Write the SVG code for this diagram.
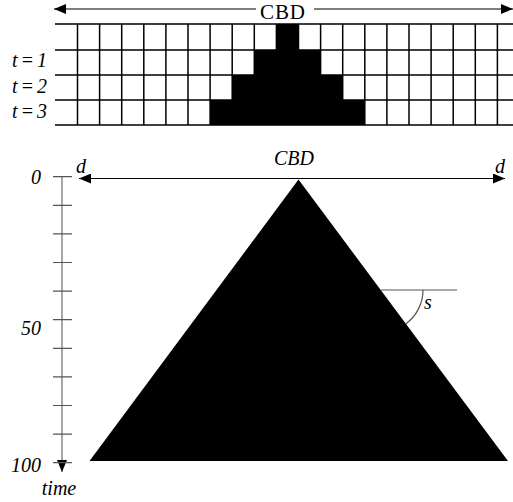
<svg xmlns="http://www.w3.org/2000/svg" width="513" height="502" viewBox="0 0 513 502">
<style>
.g{stroke:#000;stroke-width:1.5;fill:none}
.ax{stroke:#777;stroke-width:1.3;fill:none}
.tk{stroke:#555;stroke-width:1.2}
.ln{stroke:#000;stroke-width:1;fill:none}
.it{font-family:"Liberation Serif",serif;font-style:italic;font-size:20px;fill:#000}
.rm{font-family:"Liberation Serif",serif;font-size:21px;fill:#000}
</style>
<defs>
<marker id="ah" viewBox="0 0 12 10" refX="12" refY="5" markerWidth="12" markerHeight="10" markerUnits="userSpaceOnUse" orient="auto-start-reverse"><path d="M0,0L12,5L0,10z" fill="#000"/></marker>
</defs>
<g id="grid">
<rect x="276.4" y="24" width="22.1" height="26" fill="#000"/>
<rect x="254.3" y="50" width="66.3" height="25" fill="#000"/>
<rect x="232.2" y="75" width="110.5" height="25" fill="#000"/>
<rect x="210.1" y="100" width="154.7" height="25" fill="#000"/>
<path class="g" d="M55,24H513M55,50H513M55,75H513M55,100H513M55,125H513"/>
<path class="g" d="M77.5,24V125M99.6,24V125M121.7,24V125M143.8,24V125M165.9,24V125M188,24V125M210.1,24V125M232.2,24V125M254.3,24V125M276.4,24V125M298.5,24V125M320.6,24V125M342.7,24V125M364.8,24V125M386.9,24V125M409,24V125M431.1,24V125M453.2,24V125M475.3,24V125M497.4,24V125"/>
</g>
<g id="connectors">
<line class="ln" x1="256" y1="9" x2="54" y2="9" marker-end="url(#ah)"/>
<line class="ln" x1="314" y1="9" x2="513" y2="9" marker-end="url(#ah)"/>
<line class="ln" x1="290" y1="178.5" x2="79" y2="178.5" marker-end="url(#ah)"/>
<line class="ln" x1="290" y1="178.5" x2="505" y2="178.5" marker-end="url(#ah)"/>
<line class="ax" x1="62" y1="176.5" x2="62" y2="472" marker-end="url(#ah)"/>
</g>
<g id="labels-top">
<text class="rm" x="282.5" y="18.5" text-anchor="middle" textLength="45">CBD</text>
<text class="it" x="12" y="67" textLength="35" font-size="19">t=1</text>
<text class="it" x="12" y="92.5" textLength="35" font-size="19">t=2</text>
<text class="it" x="12" y="118" textLength="35" font-size="19">t=3</text>
</g>
<g id="axis">
<path class="tk" d="M53,176.7H72M53,205.3H72M53,233.9H72M53,262.5H72M53,291.1H72M53,319.7H72M53,348.3H72M53,376.9H72M53,405.5H72M53,434.1H72M53,462.7H72"/>
<text class="it" x="41" y="184" text-anchor="end">0</text>
<text class="it" x="41" y="335" text-anchor="end">50</text>
<text class="it" x="41" y="472" text-anchor="end">100</text>
<text class="it" x="59" y="495" text-anchor="middle">time</text>
</g>
<g id="triangle">
<polygon points="298.5,179.5 508,461 89.5,461" fill="#000"/>
<text class="it" x="294" y="165" text-anchor="middle">CBD</text>
<text class="it" x="76" y="173">d</text>
<text class="it" x="495" y="173">d</text>
</g>
<g id="slope">
<line x1="381" y1="290" x2="457" y2="290" stroke="#555" stroke-width="1.2"/>
<path d="M423,290A42,42 0 0 1 406,323.7" fill="none" stroke="#555" stroke-width="1.2"/>
<text class="it" x="424" y="309">s</text>
</g>
</svg>
